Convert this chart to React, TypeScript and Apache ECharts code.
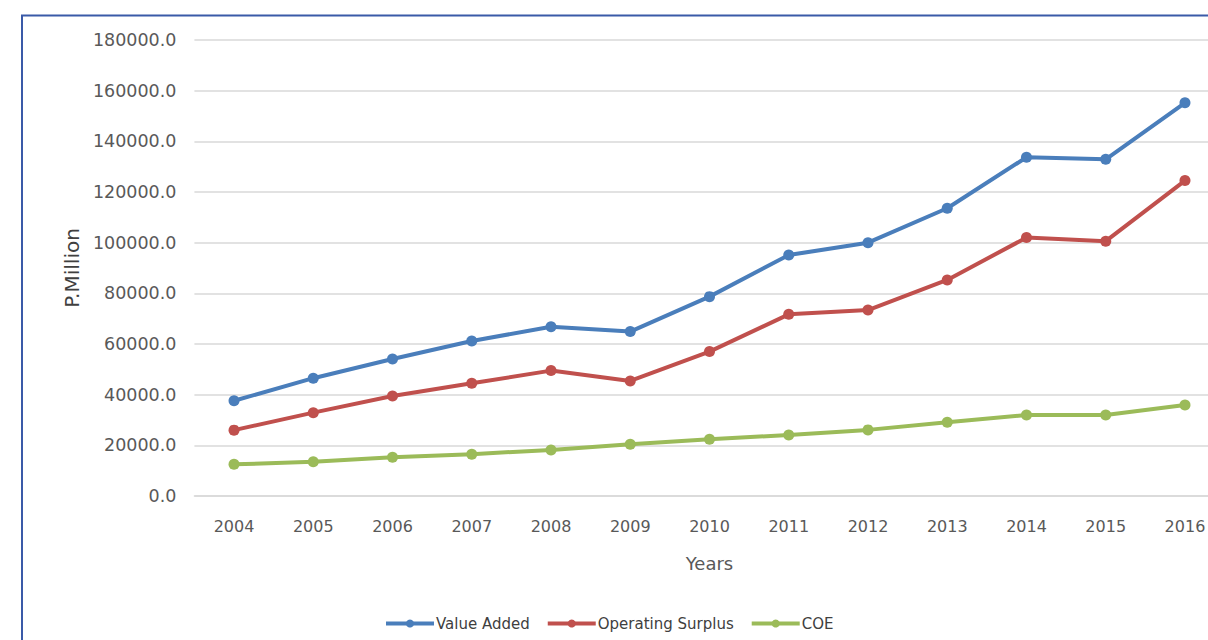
import React, { useEffect, useRef } from "react";
import * as echarts from "echarts";

const years = ["2004", "2005", "2006", "2007", "2008", "2009", "2010", "2011", "2012", "2013", "2014", "2015", "2016"];
const valueAdded = [37600, 46500, 54100, 61200, 66800, 64900, 78700, 95100, 100000, 113600, 133700, 132900, 155200];
const operatingSurplus = [26000, 32900, 39500, 44500, 49500, 45400, 57000, 71700, 73400, 85300, 102000, 100600, 124500];
const coe = [12500, 13500, 15300, 16500, 18200, 20400, 22400, 24100, 26100, 29100, 32000, 32000, 35900];

const seriesNames = ["Value Added", "Operating Surplus", "COE"];
const seriesColors = ["#4a7ebb", "#c0504d", "#9bbb59"];

export default function App() {
  const ref = useRef<HTMLDivElement>(null);
  useEffect(() => {
    if (!ref.current) return;
    const chart = echarts.init(ref.current, null, { renderer: "svg" });
    const font = "'DejaVu Sans', sans-serif";
    const data = [valueAdded, operatingSurplus, coe];
    chart.setOption({
      animation: false,
      backgroundColor: "#ffffff",
      textStyle: { fontFamily: font },
      grid: { left: 194.4, right: 15.4, top: 40, bottom: 144, containLabel: false },
      graphic: [
        { type: "line", shape: { x1: 21, y1: 15.5, x2: 1240, y2: 15.5 }, style: { stroke: "#3a5aa8", lineWidth: 2 } },
        { type: "line", shape: { x1: 22, y1: 15, x2: 22, y2: 640 }, style: { stroke: "#3a5aa8", lineWidth: 2 } },
      ],
      legend: {
        left: 379,
        top: 611,
        itemWidth: 48,
        itemHeight: 10,
        itemGap: 16,
        lineStyle: { width: 4 },
        textStyle: { fontFamily: font, fontSize: 15, color: "#404040", padding: [0, 0, 0, -3] },
        data: seriesNames,
      },
      xAxis: {
        type: "category",
        data: years,
        boundaryGap: true,
        axisLine: { show: true, lineStyle: { color: "#d9d9d9", width: 1.5 } },
        axisTick: { show: false },
        axisLabel: { color: "#595959", fontSize: 16, margin: 22, fontFamily: font },
        name: "Years",
        nameLocation: "middle",
        nameGap: 58,
        nameTextStyle: { color: "#595959", fontSize: 18, fontFamily: font },
      },
      yAxis: {
        type: "value",
        min: 0,
        max: 180000,
        interval: 20000,
        axisLine: { show: false },
        axisTick: { show: false },
        splitLine: { lineStyle: { color: "#d9d9d9", width: 1.5 } },
        axisLabel: {
          color: "#595959",
          fontSize: 17.5,
          margin: 18,
          fontFamily: font,
          formatter: (v: number) => v.toFixed(1),
        },
        name: "P.Million",
        nameLocation: "middle",
        nameGap: 112,
        nameRotate: 90,
        nameTextStyle: { color: "#404040", fontSize: 20, fontFamily: font },
      },
      series: seriesNames.map((n, i) => ({
        name: n,
        type: "line",
        data: data[i],
        symbol: "circle",
        symbolSize: 11,
        lineStyle: { width: 4, color: seriesColors[i] },
        itemStyle: { color: seriesColors[i] },
      })),
    });
    return () => chart.dispose();
  }, []);
  return (
    <div style={{ position: "fixed", left: 0, top: 0, width: 1208, height: 640, overflow: "hidden", background: "#fff" }}>
      <div ref={ref} style={{ width: 1240, height: 640 }} />
    </div>
  );
}
